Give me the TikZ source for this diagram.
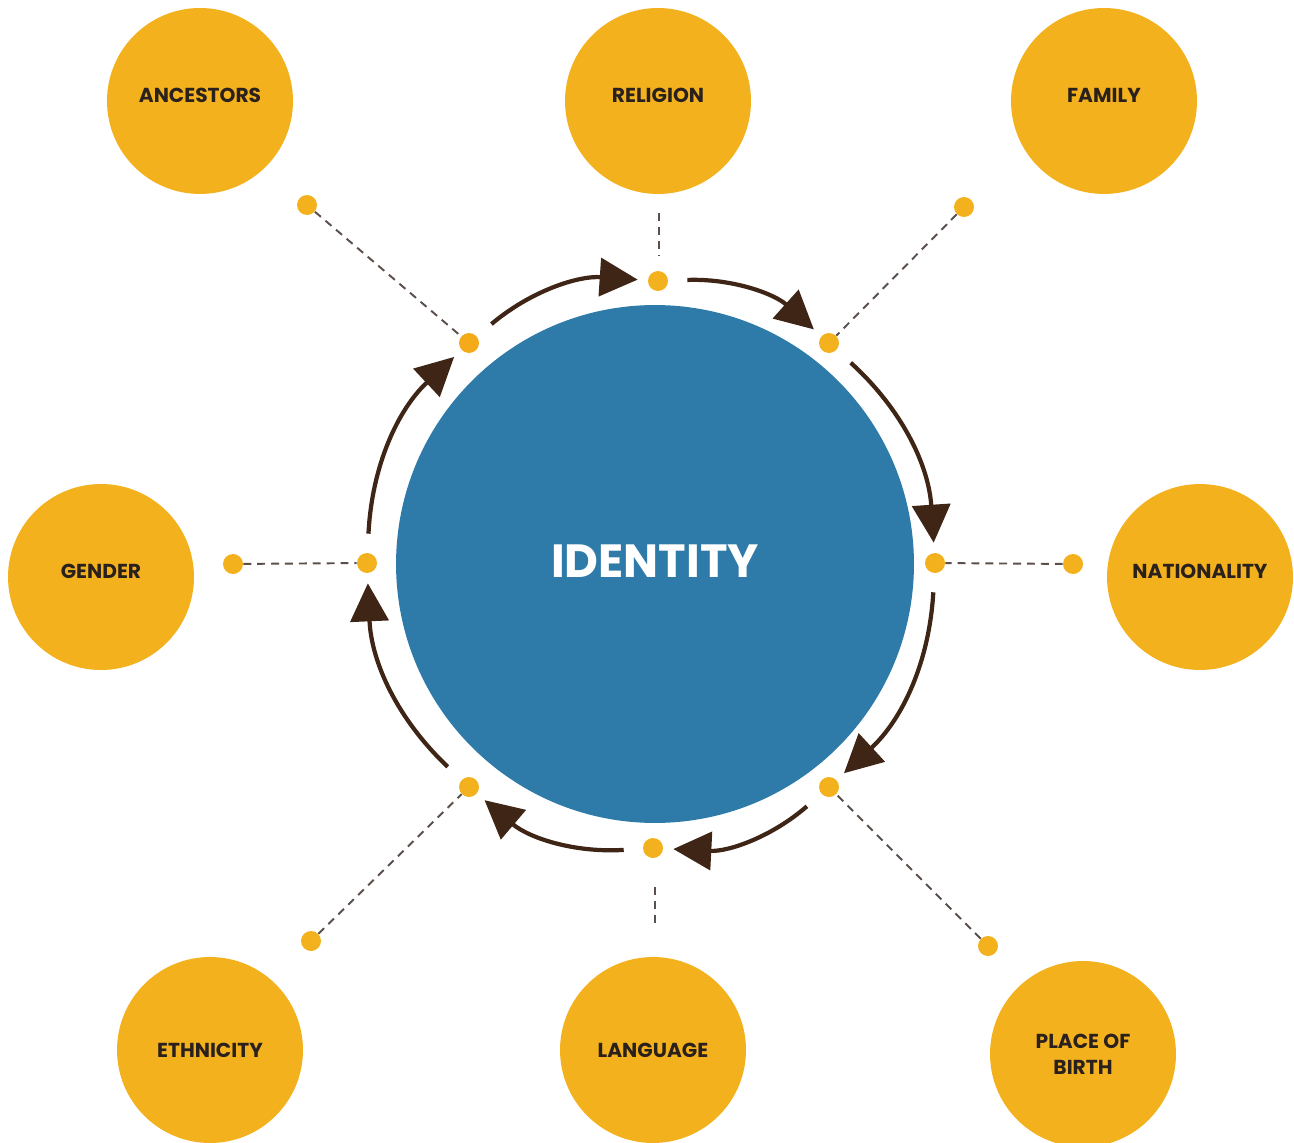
\documentclass[tikz,border=0pt]{standalone}
\usepackage{fontspec}
\setsansfont{Poppins}
\usetikzlibrary{arrows.meta}
\definecolor{sun}{HTML}{F3B11D}
\definecolor{sea}{HTML}{2E7AA8}
\definecolor{bark}{HTML}{3E2516}
\definecolor{ink}{HTML}{2A211C}
\definecolor{dashgrey}{HTML}{5B4F4B}
\begin{document}
\begin{tikzpicture}[x=0.02cm, y=-0.02cm, main node/.style={circle,fill=sun,minimum size=3.72cm,inner sep=0pt,align=center,text=ink,text depth=0.24cm},hub node/.style={circle,fill=sea,minimum size=10.36cm,inner sep=0pt,text=white},dot/.style={circle,fill=sun,minimum size=0.4cm,inner sep=0pt},link/.style={draw=dashgrey,line width=1.1pt,dash pattern=on 4.5pt off 3.4pt},turn/.style={draw=bark,line width=2.4pt,-{Triangle[length=0.76cm,width=0.76cm]},shorten <=0.38cm,shorten >=0.2cm,bend left=22}]
\useasboundingbox (0,0) rectangle (1294,1142);
\begin{scope}[every node/.style={font=\sffamily\bfseries\fontsize{11.5}{14.7}\selectfont}]
\node[main node] (anc) at (200,101) {ANCESTORS};%1
\node[main node] (rel) at (658,101) {RELIGION};%2
\node[main node] (fam) at (1104,101) {FAMILY};%3
\node[main node] (gen) at (101,577) {GENDER};%4
\node[main node] (nat) at (1200,577) {NATIONALITY};%5
\node[main node,text depth=0pt] (eth) at (210,1050) {ETHNICITY};%6
\node[main node,text depth=0pt] (lang) at (653,1050) {LANGUAGE};%7
\node[main node,text depth=0pt] (pob) at (1083,1054) {PLACE OF\\BIRTH};%8
\end{scope}
\node[hub node,font=\sffamily\bfseries\fontsize{26.5}{30}\selectfont,text depth=0.12cm] (id) at (655,564) {IDENTITY};
% inner ring
\node[dot] (i-gen) at (367,563) {};
\node[dot,fill=sun!85!orange] (i-anc) at (469,343) {};
\node[dot] (i-rel) at (658,281) {};
\node[dot] (i-fam) at (829,343) {};
\node[dot] (i-nat) at (935,563) {};
\node[dot] (i-pob) at (829,787) {};
\node[dot] (i-lang) at (653,848) {};
\node[dot] (i-eth) at (469,787) {};
% outer dots
\node[dot] (o-anc) at (307,205) {};
\node[dot] (o-fam) at (964,207) {};
\node[dot] (o-gen) at (233,564) {};
\node[dot] (o-nat) at (1073,564) {};
\node[dot] (o-eth) at (311,941) {};
\node[dot] (o-pob) at (988,946) {};
\coordinate (rel-a) at (659,213);
\coordinate (rel-b) at (659,255);
\coordinate (lang-a) at (655,887);
\coordinate (lang-b) at (655,927);
\begin{scope}[every path/.style={link}]
\draw (o-anc) -- (i-anc);
\draw (rel-a) -- (rel-b);
\draw (o-fam) -- (i-fam);
\draw (o-gen) -- (i-gen);
\draw (o-nat) -- (i-nat);
\draw (o-eth) -- (i-eth);
\draw (lang-a) -- (lang-b);
\draw (o-pob) -- (i-pob);
\end{scope}
\begin{scope}[every edge/.style={turn}]
\draw (i-gen) edge (i-anc);
\draw (i-anc) edge (i-rel);
\draw (i-rel) edge (i-fam);
\draw (i-fam) edge (i-nat);
\draw (i-nat) edge (i-pob);
\draw (i-pob) edge (i-lang);
\draw (i-lang) edge (i-eth);
\draw (i-eth) edge (i-gen);
\end{scope}
\end{tikzpicture}
\end{document}
